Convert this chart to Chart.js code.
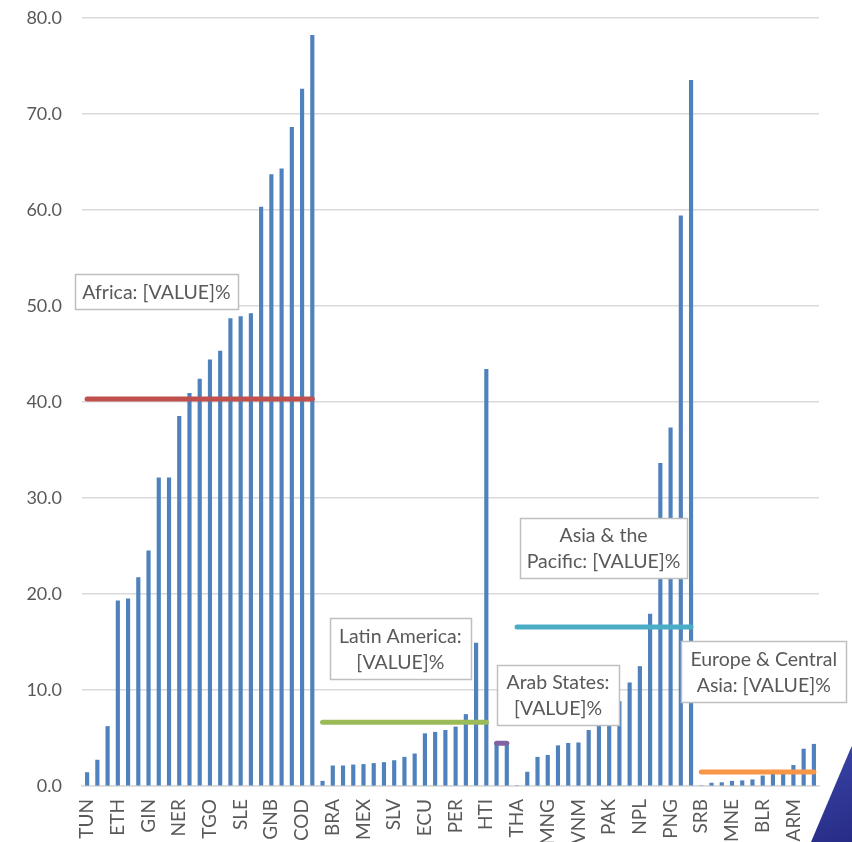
<!DOCTYPE html>
<html>
<head>
<meta charset="utf-8">
<script src="https://cdn.jsdelivr.net/npm/chart.js@4.4.1/dist/chart.umd.min.js"></script>
<style>
  html, body { margin: 0; padding: 0; background: #ffffff; overflow: hidden; }
  #wrap { width: 852px; height: 842px; position: relative; }
</style>
</head>
<body>
<div id="wrap"><canvas id="c" width="852" height="842"></canvas></div>
<script>
// ---- data ----
const tickLabels = ['TUN','ETH','GIN','NER','TGO','SLE','GNB','COD','BRA','MEX','SLV','ECU',
                    'PER','HTI','THA','MNG','VNM','PAK','NPL','PNG','SRB','MNE','BLR','ARM'];
const categories = [];
for (let i = 0; i < 72; i++) categories.push(i % 3 === 0 ? tickLabels[i / 3] : '');

const values = [
  1.4, 2.7, 6.2, 19.3, 19.5, 21.7, 24.5, 32.1, 32.1, 38.5, 40.9, 42.4,
  44.4, 45.3, 48.7, 48.9, 49.2, 60.3, 63.7, 64.3, 68.6, 72.6, 78.2,
  0.5, 2.1, 2.1, 2.2, 2.25, 2.35, 2.45, 2.65, 3.0, 3.35, 5.45, 5.6, 5.8, 6.15, 7.45, 14.9, 43.4,
  4.4, 4.5,
  0, 1.45, 3.0, 3.2, 4.2, 4.45, 4.5, 5.8, 6.4, 7.5, 8.8, 10.75, 12.45, 17.9, 33.6, 37.3, 59.4, 73.5,
  0, 0.3, 0.35, 0.5, 0.55, 0.65, 1.05, 1.25, 1.35, 2.15, 3.85, 4.35
];

const groupNames   = ['Africa', 'Latin America', 'Arab States', 'Asia & the Pacific', 'Europe & Central Asia'];
const groupStart   = [0, 23, 40, 42, 60];
const groupEnd     = [22, 39, 41, 59, 71];
const groupAverage = [40.3, 6.63, 4.45, 16.56, 1.46];
const groupColors  = ['#C0504D', '#9BBB59', '#8064A2', '#4BACC6', '#F79646'];

const yTicks = { min: 0, max: 80, step: 10 };

// label boxes (anchored in data space: x = category index, y = value)
const boxes = [
  { lines: ['Africa: [VALUE]%'],                x: 6.77,  y: 51.5, w: 163, h: 35 },
  { lines: ['Latin America:', '[VALUE]%'],      x: 30.6,  y: 14.3, w: 141, h: 61 },
  { lines: ['Arab States:', '[VALUE]%'],        x: 46.0,  y: 9.5,  w: 122, h: 60 },
  { lines: ['Asia & the', 'Pacific: [VALUE]%'], x: 50.45, y: 24.8, w: 167, h: 60 },
  { lines: ['Europe & Central', 'Asia: [VALUE]%'], x: 66.1, y: 11.9, w: 165, h: 61 }
];

// ---- datasets ----
const lineSets = groupNames.map((name, g) => {
  const d = categories.map((_, i) => (i >= groupStart[g] && i <= groupEnd[g]) ? groupAverage[g] : null);
  return {
    type: 'line', label: name, data: d,
    borderColor: groupColors[g], backgroundColor: groupColors[g],
    borderWidth: 5, borderCapStyle: 'round', pointRadius: 0, pointHoverRadius: 0,
    spanGaps: false, order: 1, tension: 0
  };
});

const FONT = 'Lato, "Open Sans", "Liberation Sans", sans-serif';
const TXT = '#595959';

const boxPlugin = {
  id: 'boxes',
  afterDatasetsDraw(chart) {
    const ctx = chart.ctx, xs = chart.scales.x, ys = chart.scales.y;
    ctx.save();
    boxes.forEach(b => {
      const cx = xs.getPixelForValue(b.x), cy = ys.getPixelForValue(b.y);
      const x0 = Math.round(cx - b.w / 2) + 0.5, y0 = Math.round(cy - b.h / 2) + 0.5;
      ctx.fillStyle = '#ffffff';
      ctx.fillRect(x0, y0, b.w, b.h);
      ctx.strokeStyle = '#bfbfbf';
      ctx.lineWidth = 1.5;
      ctx.strokeRect(x0, y0, b.w, b.h);
      ctx.fillStyle = TXT;
      ctx.font = '19.5px ' + FONT;
      ctx.textAlign = 'center';
      ctx.textBaseline = 'middle';
      const n = b.lines.length, lh = 26;
      b.lines.forEach((t, k) => {
        ctx.fillText(t, cx, cy + (k - (n - 1) / 2) * lh + 1);
      });
    });
    ctx.restore();
  },
  afterDraw(chart) {
    // decorative corner shape (slide background)
    const ctx = chart.ctx, W = chart.width, H = chart.height;
    ctx.save();
    ctx.beginPath();
    ctx.moveTo(W - 2, H - 92);
    ctx.lineTo(W, H - 96);
    ctx.lineTo(W, H);
    ctx.lineTo(W - 41, H);
    ctx.closePath();
    const g = ctx.createLinearGradient(W - 40, H - 90, W, H);
    g.addColorStop(0, '#3a43a6');
    g.addColorStop(1, '#262c86');
    ctx.fillStyle = g;
    ctx.fill();
    ctx.restore();
  }
};

new Chart(document.getElementById('c'), {
  data: {
    labels: categories,
    datasets: [
      {
        type: 'bar', label: 'Value', data: values,
        backgroundColor: '#4F81BD', borderWidth: 0,
        barThickness: 3.5, order: 2
      },
      ...lineSets
    ]
  },
  options: {
    responsive: false,
    animation: false,
    devicePixelRatio: 1,
    layout: { padding: { top: 18, right: 33, left: 0, bottom: 0 } },
    plugins: { legend: { display: false }, tooltip: { enabled: false } },
    scales: {
      x: {
        type: 'category',
        offset: true,
        grid: { display: false, drawTicks: false },
        border: { display: true, color: '#d9d9d9', width: 1.5 },
        ticks: {
          autoSkip: false, minRotation: 90, maxRotation: 90, padding: 13,
          color: TXT, font: { family: FONT, size: 19 },
          callback: (v, i) => categories[i]
        },
        afterFit: s => { s.height = 56; }
      },
      y: {
        min: yTicks.min, max: yTicks.max,
        grid: { color: '#d9d9d9', lineWidth: 1.5, drawTicks: false },
        border: { display: false },
        ticks: {
          stepSize: yTicks.step, padding: 20,
          color: TXT, font: { family: FONT, size: 18 },
          callback: v => v.toFixed(1)
        },
        afterFit: s => { s.width = 82; s.paddingTop = 0; s.paddingBottom = 0; }
      }
    }
  },
  plugins: [boxPlugin]
});
</script>
</body>
</html>
